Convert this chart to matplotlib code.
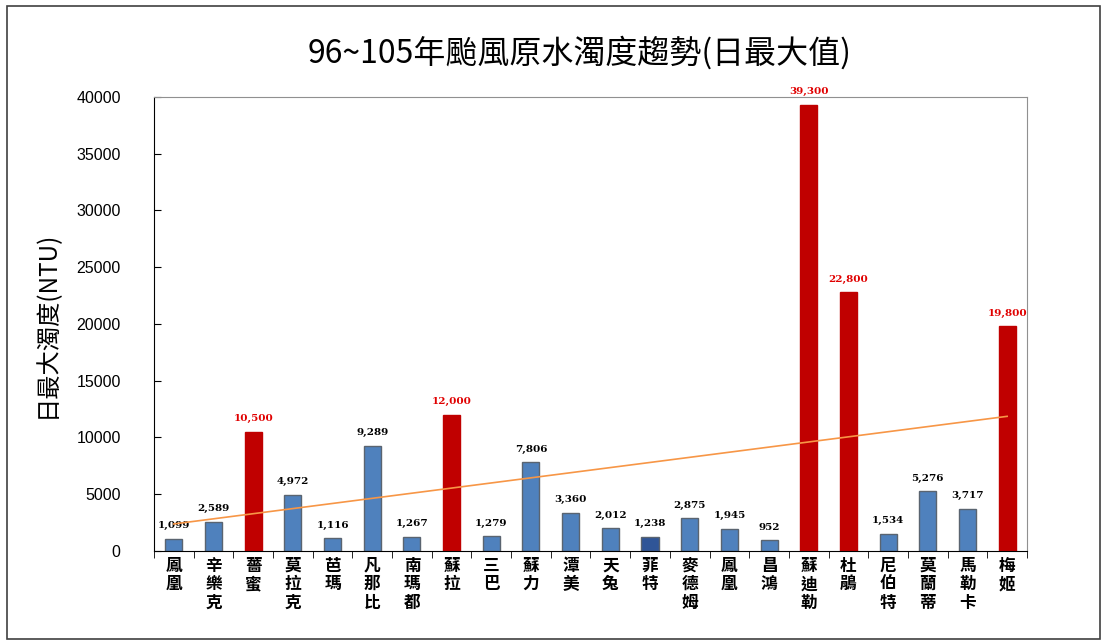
import numpy as np
import matplotlib
matplotlib.use('Agg')
import matplotlib.pyplot as plt
from matplotlib.patches import Rectangle

plt.rcParams['font.family'] = ['Noto Sans CJK TC', 'DejaVu Sans']

typhoons = ['鳳凰', '辛樂克', '薔蜜', '莫拉克', '芭瑪', '凡那比', '南瑪都', '蘇拉', '三巴',
            '蘇力', '潭美', '天兔', '菲特', '麥德姆', '鳳凰', '昌鴻', '蘇迪勒', '杜鵑',
            '尼伯特', '莫蘭蒂', '馬勒卡', '梅姬']
turbidity = [1099, 2589, 10500, 4972, 1116, 9289, 1267, 12000, 1279, 7806, 3360,
             2012, 1238, 2875, 1945, 952, 39300, 22800, 1534, 5276, 3717, 19800]
highlight = [False, False, True, False, False, False, False, True, False, False, False,
             False, False, False, False, False, True, True, False, False, False, True]

x = np.arange(len(typhoons))
vals = np.array(turbidity)

fig = plt.figure(figsize=(11.07, 6.41), dpi=100)
fig.patches.append(Rectangle((0.006, 0.003), 0.988, 0.987, transform=fig.transFigure,
                             fill=False, edgecolor='#404040', linewidth=1.2))

ax = fig.add_axes([0.1391, 0.1404, 0.7886, 0.7083])

colors = []
for i, h in enumerate(highlight):
    if h:
        colors.append('#C00000')
    elif typhoons[i] == '菲特':
        colors.append('#2F5597')
    else:
        colors.append('#4F81BD')
edges = ['#C00000' if h else '#5A6470' for h in highlight]
ax.bar(x, vals, width=0.43, color=colors, edgecolor=edges, linewidth=1.0, zorder=2)

# data labels
for xi, v, h in zip(x, vals, highlight):
    ax.text(xi, v + 750, f'{v:,}', ha='center', va='bottom', fontsize=7.5,
            fontweight='bold', family=['DejaVu Serif'],
            color='#E00000' if h else '#000000')

# linear trend line
coef = np.polyfit(x, vals, 1)
ax.plot(x, np.polyval(coef, x), color='#F79646', linewidth=1.2, zorder=3)

ax.set_xlim(-0.5, len(typhoons) - 0.5)
ax.set_ylim(0, 40000)
ax.set_yticks(np.arange(0, 40001, 5000))
ax.set_yticklabels([str(v) for v in range(0, 40001, 5000)], family=['Liberation Sans'])
ax.tick_params(axis='y', labelsize=11.5, length=5, direction='in', pad=24, colors='#000000')
ax.set_xticks(x)
ax.set_xticklabels(['\n'.join(t) for t in typhoons], fontsize=12, fontweight='bold',
                   linespacing=1.05)
ax.tick_params(axis='x', length=0, pad=4)
ax.set_xticks(np.arange(-0.5, len(typhoons), 1), minor=True)
ax.tick_params(axis='x', which='minor', length=5, color='#000000')

for s in ['top', 'right']:
    ax.spines[s].set_color('#909090')
ax.spines['left'].set_color('#000000')
ax.spines['bottom'].set_color('#000000')

ax.set_ylabel('日最大濁度(NTU)', fontsize=17.5, labelpad=12)
fig.text(0.524, 0.918, '96~105年颱風原水濁度趨勢(日最大值)', ha='center', va='center',
         fontsize=23, fontweight='light')

fig.savefig('out.png', dpi=100)
